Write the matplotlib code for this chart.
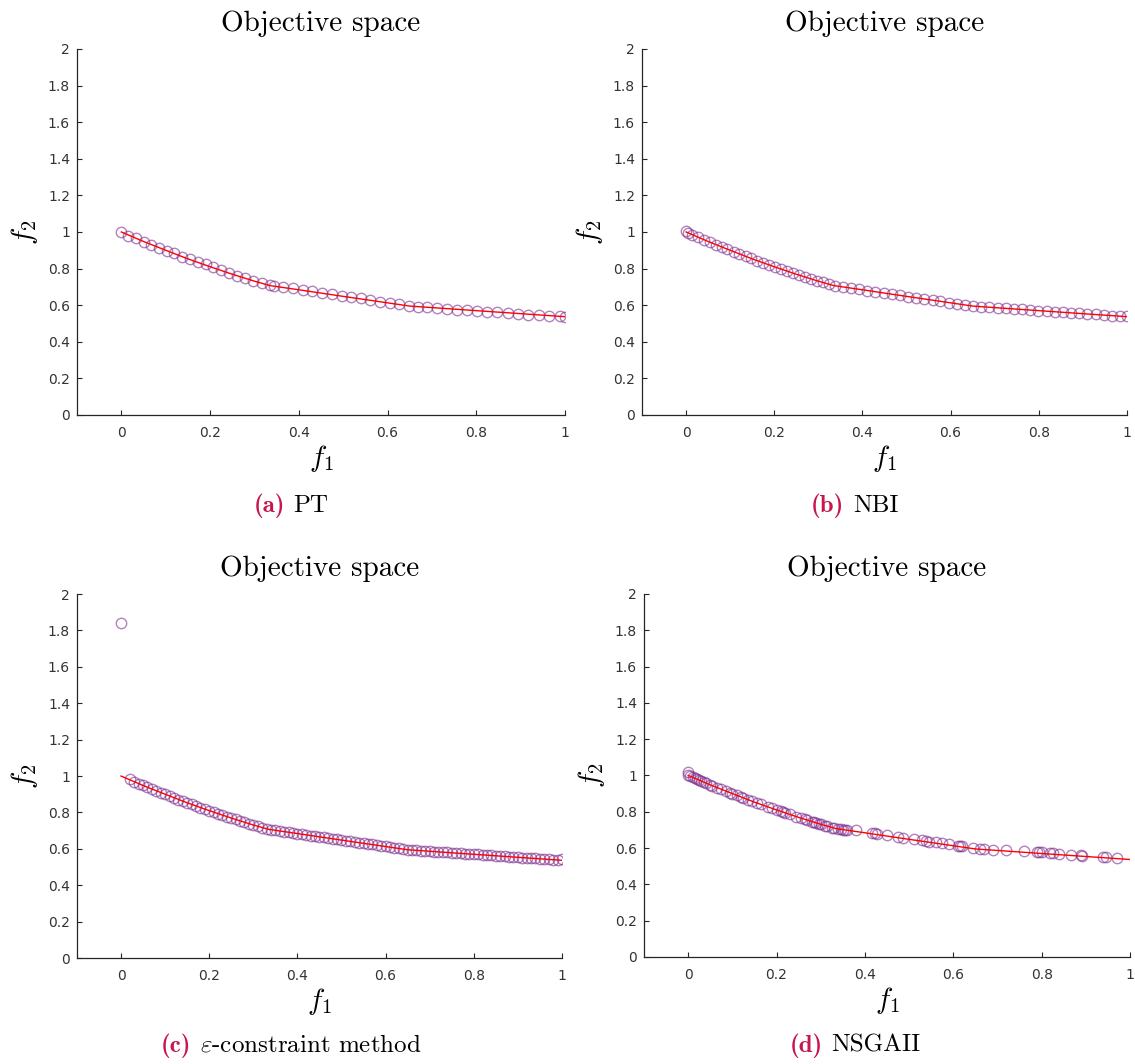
import matplotlib
matplotlib.use("Agg")
import matplotlib.pyplot as plt
import numpy as np

plt.rcParams['mathtext.fontset'] = 'cm'

# reference Pareto front (red line)
front_f1 = [0.0, 0.05, 0.10, 0.15, 0.20, 0.25, 0.30, 0.335, 0.40, 0.50, 0.65, 0.80, 1.0]
front_f2 = [1.0, 0.948, 0.900, 0.853, 0.810, 0.769, 0.731, 0.707, 0.684, 0.648, 0.595, 0.570, 0.537]

# (a) PT
pt_f1 = [0.000, 0.016, 0.034, 0.052, 0.067, 0.085, 0.102, 0.119, 0.137, 0.155, 0.172, 0.190, 0.207,
         0.225, 0.243, 0.261, 0.279, 0.297, 0.316, 0.335, 0.345, 0.365, 0.388, 0.409, 0.430, 0.452,
         0.474, 0.497, 0.518, 0.540, 0.561, 0.583, 0.606, 0.626, 0.648, 0.669, 0.690, 0.712, 0.734,
         0.757, 0.780, 0.802, 0.825, 0.847, 0.871, 0.893, 0.917, 0.941, 0.965, 0.989, 1.000]
pt_f2 = [0.998, 0.978, 0.965, 0.945, 0.927, 0.914, 0.896, 0.883, 0.865, 0.854, 0.838, 0.825, 0.807,
         0.794, 0.776, 0.761, 0.750, 0.734, 0.723, 0.710, 0.703, 0.698, 0.692, 0.683, 0.676, 0.668,
         0.659, 0.652, 0.645, 0.638, 0.628, 0.619, 0.612, 0.605, 0.596, 0.592, 0.588, 0.585, 0.581,
         0.575, 0.572, 0.568, 0.564, 0.561, 0.557, 0.553, 0.548, 0.546, 0.543, 0.541, 0.535]

# (b) NBI
nbi_f1 = [0.000, 0.005, 0.013, 0.027, 0.040, 0.054, 0.067, 0.081, 0.094, 0.108, 0.121, 0.135, 0.148,
          0.162, 0.175, 0.189, 0.202, 0.216, 0.229, 0.243, 0.256, 0.270, 0.283, 0.297, 0.310, 0.324,
          0.337, 0.355, 0.374, 0.392, 0.411, 0.429, 0.448, 0.466, 0.485, 0.503, 0.522, 0.540, 0.559,
          0.577, 0.596, 0.614, 0.633, 0.651, 0.670, 0.688, 0.707, 0.725, 0.744, 0.762, 0.781, 0.799,
          0.818, 0.836, 0.855, 0.873, 0.892, 0.910, 0.929, 0.947, 0.966, 0.984, 1.000]
nbi_f2 = [1.005, 0.992, 0.986, 0.972, 0.958, 0.944, 0.931, 0.918, 0.905, 0.892, 0.880, 0.867, 0.855,
          0.843, 0.831, 0.819, 0.808, 0.797, 0.786, 0.775, 0.765, 0.754, 0.744, 0.734, 0.724, 0.714,
          0.706, 0.700, 0.693, 0.687, 0.680, 0.674, 0.667, 0.660, 0.654, 0.647, 0.641, 0.634, 0.627,
          0.621, 0.614, 0.608, 0.601, 0.595, 0.592, 0.589, 0.586, 0.583, 0.579, 0.577, 0.573, 0.570,
          0.567, 0.564, 0.561, 0.558, 0.555, 0.552, 0.549, 0.546, 0.543, 0.540, 0.540]

# (c) epsilon-constraint method
eps_f1 = [0.00,
          0.02, 0.03, 0.04, 0.05, 0.06, 0.07, 0.08, 0.09, 0.10,
          0.11, 0.12, 0.13, 0.14, 0.15, 0.16, 0.17, 0.18, 0.19, 0.20,
          0.21, 0.22, 0.23, 0.24, 0.25, 0.26, 0.27, 0.28, 0.29, 0.30,
          0.31, 0.32, 0.33, 0.34, 0.35, 0.36, 0.37, 0.38, 0.39, 0.40,
          0.41, 0.42, 0.43, 0.44, 0.45, 0.46, 0.47, 0.48, 0.49, 0.50,
          0.51, 0.52, 0.53, 0.54, 0.55, 0.56, 0.57, 0.58, 0.59, 0.60,
          0.61, 0.62, 0.63, 0.64, 0.65, 0.66, 0.67, 0.68, 0.69, 0.70,
          0.71, 0.72, 0.73, 0.74, 0.75, 0.76, 0.77, 0.78, 0.79, 0.80,
          0.81, 0.82, 0.83, 0.84, 0.85, 0.86, 0.87, 0.88, 0.89, 0.90,
          0.91, 0.92, 0.93, 0.94, 0.95, 0.96, 0.97, 0.98, 0.99, 1.00]
eps_f2 = [1.842,
          0.983, 0.969, 0.958, 0.948, 0.938, 0.928, 0.919, 0.909, 0.900,
          0.890, 0.881, 0.871, 0.862, 0.853, 0.844, 0.836, 0.827, 0.818, 0.810,
          0.802, 0.793, 0.785, 0.777, 0.769, 0.762, 0.754, 0.746, 0.739, 0.731,
          0.724, 0.717, 0.710, 0.705, 0.702, 0.698, 0.695, 0.691, 0.687, 0.684,
          0.680, 0.677, 0.673, 0.670, 0.666, 0.663, 0.659, 0.656, 0.652, 0.648,
          0.645, 0.641, 0.638, 0.634, 0.631, 0.627, 0.624, 0.620, 0.616, 0.613,
          0.609, 0.606, 0.602, 0.599, 0.595, 0.593, 0.592, 0.590, 0.588, 0.587,
          0.585, 0.583, 0.582, 0.580, 0.578, 0.577, 0.575, 0.574, 0.572, 0.570,
          0.569, 0.567, 0.565, 0.564, 0.562, 0.560, 0.559, 0.557, 0.555, 0.554,
          0.552, 0.550, 0.549, 0.547, 0.545, 0.544, 0.542, 0.541, 0.539, 0.542]

# (d) NSGAII
nsga_f1 = [0.000, 0.000, 0.005, 0.010, 0.015, 0.020, 0.025, 0.030, 0.035, 0.040, 0.050, 0.055, 0.065,
           0.075, 0.085, 0.095, 0.100, 0.110, 0.120, 0.125, 0.135, 0.145, 0.155, 0.165, 0.180, 0.190,
           0.200, 0.210, 0.215, 0.220, 0.230, 0.245, 0.255, 0.265, 0.270, 0.280, 0.285, 0.290, 0.295,
           0.300, 0.310, 0.315, 0.325, 0.330, 0.340, 0.345, 0.350, 0.355, 0.360, 0.380, 0.416, 0.422,
           0.427, 0.450, 0.474, 0.487, 0.510, 0.530, 0.538, 0.545, 0.560, 0.575, 0.590, 0.610, 0.615,
           0.620, 0.645, 0.660, 0.670, 0.690, 0.720, 0.760, 0.790, 0.795, 0.800, 0.820, 0.825, 0.840,
           0.866, 0.890, 0.892, 0.940, 0.945, 0.970]
nsga_f2 = [1.020, 1.000, 0.995, 0.989, 0.984, 0.979, 0.974, 0.969, 0.963, 0.958, 0.948, 0.943, 0.933,
           0.923, 0.914, 0.904, 0.900, 0.890, 0.881, 0.876, 0.867, 0.857, 0.848, 0.840, 0.827, 0.818,
           0.810, 0.802, 0.797, 0.793, 0.785, 0.773, 0.765, 0.758, 0.754, 0.746, 0.742, 0.739, 0.735,
           0.731, 0.724, 0.720, 0.713, 0.710, 0.705, 0.703, 0.702, 0.700, 0.698, 0.698, 0.683, 0.681,
           0.679, 0.670, 0.662, 0.657, 0.650, 0.642, 0.639, 0.636, 0.631, 0.626, 0.620, 0.614, 0.612,
           0.610, 0.600, 0.597, 0.596, 0.592, 0.588, 0.585, 0.580, 0.578, 0.577, 0.573, 0.572, 0.569,
           0.562, 0.560, 0.558, 0.550, 0.549, 0.547]

# axes rect, data, caption tag, caption text, caption centre x
panels = [
    ([0.0678, 0.6100, 0.4300, 0.3440], pt_f1, pt_f2, '(a)', 'PT', 0.2564),
    ([0.5656, 0.6100, 0.4273, 0.3440], nbi_f1, nbi_f2, '(b)', 'NBI', 0.7533),
    ([0.0678, 0.0996, 0.4273, 0.3421], eps_f1, eps_f2, '(c)', r'$\varepsilon$-constraint method', 0.2564),
    ([0.5674, 0.1006, 0.4282, 0.3412], nsga_f1, nsga_f2, '(d)', 'NSGAII', 0.7533),
]

purple = (0.494, 0.184, 0.556)
crimson = '#C8174F'
spine_col = '#262626'

fig = plt.figure(figsize=(11.35, 10.64), dpi=100)

captions = []
for rect, xs, ys, tag, name, cx in panels:
    ax = fig.add_axes(rect)
    ax.plot(xs, ys, linestyle='none', marker='o', ms=7.5, mfc='none',
            mec=purple, mew=1.0, alpha=0.6, zorder=2)
    ax.plot(front_f1, front_f2, color='red', lw=1.0, zorder=3)

    ax.set_xlim(-0.1, 1)
    ax.set_ylim(0, 2)
    ax.set_xticks([0, 0.2, 0.4, 0.6, 0.8, 1])
    ax.set_xticklabels(['0', '0.2', '0.4', '0.6', '0.8', '1'])
    ax.set_yticks(np.linspace(0, 2, 11))
    ax.set_yticklabels(['0', '0.2', '0.4', '0.6', '0.8', '1', '1.2', '1.4', '1.6', '1.8', '2'])
    for side in ('top', 'right'):
        ax.spines[side].set_visible(False)
    for side in ('left', 'bottom'):
        ax.spines[side].set_color(spine_col)
        ax.spines[side].set_linewidth(0.9)
    ax.tick_params(direction='in', length=3.5, width=0.8, color=spine_col,
                   labelsize=10, labelcolor='#333333', pad=5)
    ax.tick_params(axis='x', pad=8)

    ax.set_title('Objective space', fontfamily='cmr10', fontsize=21, pad=13)
    ax.set_xlabel('$f_1$', fontsize=21, labelpad=2)
    ax.set_ylabel('$f_2$', fontsize=21, labelpad=6)

    # subfigure caption: bold coloured tag followed by the method name
    cy = 0.519 if rect[1] > 0.5 else 0.0115
    t1 = fig.text(cx, cy, tag, fontfamily='cmb10', fontsize=18, color=crimson, va='baseline')
    t2 = fig.text(cx, cy, name, fontfamily='cmr10', fontsize=18, va='baseline')
    captions.append((cx, t1, t2))

fig.canvas.draw()
renderer = fig.canvas.get_renderer()
gap = 9 / fig.bbox.width
for cx, t1, t2 in captions:
    w1 = t1.get_window_extent(renderer).width / fig.bbox.width
    w2 = t2.get_window_extent(renderer).width / fig.bbox.width
    left = cx - (w1 + gap + w2) / 2
    t1.set_x(left)
    t2.set_x(left + w1 + gap)

fig.savefig('out.png', dpi=100)
